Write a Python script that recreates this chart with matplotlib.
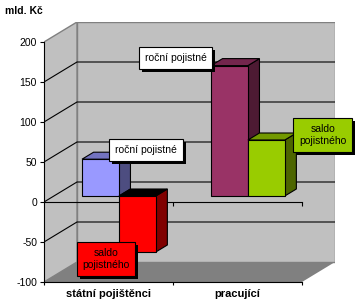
import matplotlib
matplotlib.use('Agg')
import matplotlib.pyplot as plt
from matplotlib import patheffects
from matplotlib.patches import Polygon

plt.rcParams['font.family'] = ['Liberation Sans', 'DejaVu Sans']
plt.rcParams['axes.unicode_minus'] = False

# data
categories = ['státní pojištěnci', 'pracující']
rocni_pojistne = [46, 163]
saldo_pojistneho = [-70, 70]
y_ticks = [-100, -50, 0, 50, 100, 150, 200]
series_labels = ['roční pojistné', 'saldo\npojistného']

# per-point colours (front face)
rocni_colors = ['#9999FF', '#993366']
saldo_colors = ['#FF0000', '#99CC00']

# where the data labels sit (data coordinates)
rocni_label_xy = [(0.79, 65), (1.02, 180)]
saldo_label_xy = [(0.48, -71), (2.16, 84)]

# 3d look
DX, DY = 33 / 129, 25          # depth offset of the back wall
F0, F1 = 0.3, 0.65             # bar depth range (fraction of depth)
BAR_X0, BAR_W = 0.218, 0.286
YMIN, YMAX = y_ticks[0], y_ticks[-1]
WALL = '#C0C0C0'
FLOOR = '#808080'


def proj(x, v, f):
    return x + f * DX, v + f * DY


def shade(color, k):
    c = matplotlib.colors.to_rgb(color)
    return tuple(k * ch for ch in c)


def bar3d(ax, x0, value, color, top_color=None):
    x1 = x0 + BAR_W
    lo, hi = min(0, value), max(0, value)
    side = [proj(x1, lo, F0), proj(x1, lo, F1), proj(x1, hi, F1), proj(x1, hi, F0)]
    top = [proj(x0, hi, F0), proj(x1, hi, F0), proj(x1, hi, F1), proj(x0, hi, F1)]
    front = [proj(x0, lo, F0), proj(x1, lo, F0), proj(x1, hi, F0), proj(x0, hi, F0)]
    if top_color is None:
        top_color = shade(color, 0.75)
    for pts, fc in [(side, shade(color, 0.5)), (top, top_color), (front, color)]:
        ax.add_patch(Polygon(pts, closed=True, fc=fc, ec='black', lw=0.8, zorder=3))


def data_label(ax, text, xy, fc):
    t = ax.annotate(text, xy, ha='center', va='center', ma='center', fontsize=7.5,
                    linespacing=1.25, color='black',
                    bbox=dict(boxstyle='square,pad=0.55', fc=fc, ec='black', lw=0.8),
                    zorder=6)
    t.get_bbox_patch().set_path_effects([
        patheffects.SimplePatchShadow(offset=(2.2, -2.2), shadow_rgbFace='black', alpha=1),
        patheffects.Normal()])


fig = plt.figure(figsize=(3.61, 3.05), dpi=100)
ax = fig.add_axes([44 / 361, 23 / 305, 291 / 361, 260 / 305])
ax.set_xlim(0, 2 + DX)
ax.set_ylim(YMIN, YMAX + DY)
ax.patch.set_visible(False)

# walls and floor
back = [proj(0, YMIN, 1), proj(2, YMIN, 1), proj(2, YMAX, 1), proj(0, YMAX, 1)]
left = [(0, YMIN), proj(0, YMIN, 1), proj(0, YMAX, 1), (0, YMAX)]
floor = [(0, YMIN), (2, YMIN), proj(2, YMIN, 1), proj(0, YMIN, 1)]
ax.add_patch(Polygon(back, closed=True, fc=WALL, ec='#808080', lw=1, zorder=0))
ax.add_patch(Polygon(left, closed=True, fc=WALL, ec='#808080', lw=1, zorder=0))
ax.add_patch(Polygon(floor, closed=True, fc=FLOOR, ec='none', zorder=1))

# gridlines on the walls
for v in y_ticks[1:-1]:
    (xa, ya), (xb, yb) = (0, v), proj(0, v, 1)
    ax.plot([xa, xb, xb + 2], [ya, yb, yb], color='black', lw=0.8, zorder=1)

# category axis at zero
ax.plot([0, 1, 2], [0, 0, 0], color='black', lw=0.8, zorder=2,
        marker=3, markersize=3, markevery=[1, 2], markeredgewidth=0.8)

# bars
for i in range(len(categories)):
    bar3d(ax, i + BAR_X0, rocni_pojistne[i], rocni_colors[i])
    top = 'black' if saldo_pojistneho[i] < 0 else None
    bar3d(ax, i + BAR_X0 + BAR_W, saldo_pojistneho[i], saldo_colors[i], top)

for i in range(len(categories)):
    data_label(ax, series_labels[0], rocni_label_xy[i], 'white')
    data_label(ax, series_labels[1], saldo_label_xy[i], saldo_colors[i])

# axes
for s in ['top', 'right']:
    ax.spines[s].set_visible(False)
ax.spines['left'].set_bounds(YMIN, YMAX)
ax.spines['bottom'].set_bounds(0, 2)
for s in ['left', 'bottom']:
    ax.spines[s].set_linewidth(0.8)
    ax.spines[s].set_zorder(2)

ax.set_yticks(y_ticks)
ax.tick_params(axis='y', direction='out', length=3, width=0.8, pad=2, labelsize=7.5)
ax.set_xticks([0, 1, 2])
ax.set_xticklabels([])
ax.tick_params(axis='x', which='major', direction='out', length=2.5, width=0.8)
ax.set_xticks([0.5, 1.5], categories, minor=True)
ax.tick_params(axis='x', which='minor', length=0, pad=5, labelsize=8)
for lbl in ax.get_xticklabels(minor=True):
    lbl.set_fontweight('bold')

fig.text(5 / 361, 1 - 11.5 / 305, 'mld. Kč', fontsize=7.5, fontweight='bold',
         ha='left', va='center')

fig.savefig('out.png', dpi=100)
